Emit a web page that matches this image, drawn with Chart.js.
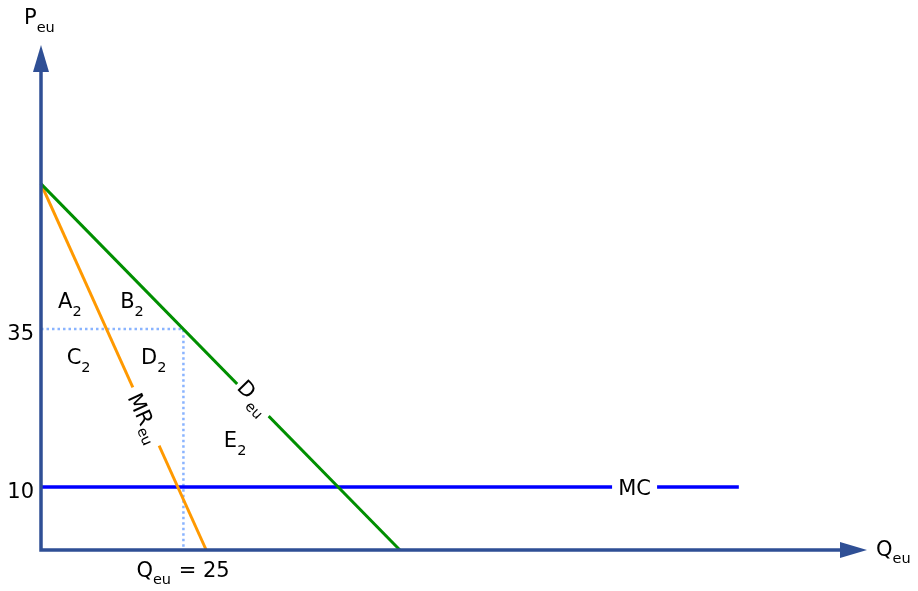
<!DOCTYPE html>
<html><head><meta charset="utf-8">
<script src="https://cdn.jsdelivr.net/npm/chart.js@4.4.1/dist/chart.umd.min.js"></script>
<style>html,body{margin:0;padding:0;background:#fff;}#wrap{width:918px;height:591px;}</style>
</head><body><div id="wrap"><canvas id="c" width="918" height="591"></canvas></div>
<script>
// ---- data ----
const demandQ = [0, 63];
const demandP = [58, 0];
const mrQ = [0, 29];
const mrP = [58, 0];
const mcQ = [0, 122.5];
const mcP = [10, 10];
const optQ = 25;
const optP = 35;
const priceTicks = [35, 10];
const priceTickLabels = ['35', '10'];
const regionNames = ['A', 'B', 'C', 'D', 'E'];
const regionSub = ['2', '2', '2', '2', '2'];
const regionQ = [3.0, 13.9, 4.5, 17.55, 32.1];
const regionP = [38.3, 38.3, 29.5, 29.5, 16.3];
const mcLabelQ = 104.2;
const demandLabelQ = 37.2;
const mrLabelQ = 18.43;
const qLabel = 'Q', qSub = 'eu', qValueText = ' = 25';

const FONT = '"DejaVu Sans", Verdana, sans-serif';
const AXIS = '#2f4f95';
const MAIN = 21, SUB = 14.5;

function toPts(xs, ys){ return xs.map((v,i)=>({x:v, y:ys[i]})); }

function font(sz){ return sz + 'px ' + FONT; }
function drawSub(ctx, main, sub, x, y, drop, align){
  ctx.textBaseline = 'alphabetic';
  ctx.font = font(MAIN);
  const w1 = ctx.measureText(main).width;
  ctx.font = font(SUB);
  const w2 = ctx.measureText(sub).width;
  let sx = x;
  if (align === 'center') sx = x - (w1 + w2)/2;
  ctx.textAlign = 'left';
  ctx.font = font(MAIN);
  ctx.fillText(main, sx, y);
  ctx.font = font(SUB);
  ctx.fillText(sub, sx + w1, y + drop);
  return sx + w1 + w2;
}

const overlay = {
  id: 'overlay',
  afterDatasetsDraw(chart){
    const ctx = chart.ctx;
    const xs = chart.scales.x, ys = chart.scales.y;
    const X = v => xs.getPixelForValue(v), Y = v => ys.getPixelForValue(v);
    const ca = chart.chartArea;
    ctx.save();
    // axes
    const ox = X(0), oy = Y(0);
    ctx.strokeStyle = AXIS; ctx.fillStyle = AXIS; ctx.lineWidth = 3.5;
    ctx.lineCap = 'butt';
    ctx.beginPath();
    ctx.moveTo(ox, oy + 1.75); ctx.lineTo(ox, ca.top + 26);
    ctx.moveTo(ox - 1.75, oy); ctx.lineTo(ca.right - 26, oy);
    ctx.stroke();
    ctx.beginPath();
    ctx.moveTo(ox, ca.top); ctx.lineTo(ox - 8, ca.top + 27); ctx.lineTo(ox + 8, ca.top + 27); ctx.closePath(); ctx.fill();
    ctx.beginPath();
    ctx.moveTo(ca.right, oy); ctx.lineTo(ca.right - 27, oy - 8); ctx.lineTo(ca.right - 27, oy + 8); ctx.closePath(); ctx.fill();

    ctx.fillStyle = '#000';
    // axis titles
    drawSub(ctx, 'P', 'eu', 24, 24, 8, 'left');
    drawSub(ctx, 'Q', 'eu', ca.right + 9, oy + 6, 7, 'left');
    // price ticks
    ctx.font = font(MAIN); ctx.textAlign = 'right'; ctx.textBaseline = 'alphabetic';
    priceTicks.forEach((v,i)=>{ ctx.fillText(priceTickLabels[i], ox - 7, Y(v) + 11); });
    // quantity label
    const end = drawSub(ctx, qLabel, qSub, X(optQ) - 47, oy + 27, 7, 'left');
    ctx.font = font(MAIN); ctx.textAlign = 'left';
    ctx.fillText(qValueText, end + 1, oy + 27);
    // region labels
    regionNames.forEach((n,i)=>{ drawSub(ctx, n, regionSub[i], X(regionQ[i]), Y(regionP[i]), 8, 'left'); });
    // MC label with gap
    const mcx = X(mcLabelQ), mcy = Y(mcP[0]);
    ctx.fillStyle = '#fff'; ctx.fillRect(mcx - 22.5, mcy - 4, 45, 8);
    ctx.fillStyle = '#000'; ctx.font = font(MAIN); ctx.textAlign = 'center';
    ctx.fillText('MC', mcx, mcy + 8);
    // rotated labels
    function rotLabel(q, lq, lp, main, sub, gap, mainAlong, mainBase, subAlong, subBase){
      const p = lp[0] * (1 - q / lq[1]);
      const cx = X(q), cy = Y(p);
      const ang = Math.atan2(Y(lp[1]) - Y(lp[0]), X(lq[1]) - X(lq[0]));
      ctx.save();
      ctx.translate(cx, cy); ctx.rotate(ang);
      ctx.fillStyle = '#fff'; ctx.fillRect(-gap/2, -4, gap, 8);
      ctx.fillStyle = '#000'; ctx.textAlign = 'center'; ctx.textBaseline = 'alphabetic';
      ctx.font = font(MAIN); ctx.fillText(main, mainAlong, mainBase);
      ctx.font = font(SUB); ctx.fillText(sub, subAlong, subBase);
      ctx.restore();
    }
    rotLabel(demandLabelQ, demandQ, demandP, 'D', 'eu', 45, -12, 4, 8, 11);
    rotLabel(mrLabelQ, mrQ, mrP, 'MR', 'eu', 64, -9, 9, 17.5, 14);
    ctx.restore();
  }
};

new Chart(document.getElementById('c'), {
  type: 'scatter',
  data: {
    datasets: [
      { data: toPts(demandQ, demandP), showLine: true, borderColor: '#008f00', borderWidth: 3, pointRadius: 0, clip: false },
      { data: toPts(mrQ, mrP), showLine: true, borderColor: '#ff9900', borderWidth: 3, pointRadius: 0, clip: false },
      { data: toPts(mcQ, mcP), showLine: true, borderColor: '#0000ff', borderWidth: 3.5, pointRadius: 0, clip: false },
      { data: [{x:0, y:optP}, {x:optQ, y:optP}, {x:optQ, y:0}], showLine: true, borderColor: '#8ab4ff', borderWidth: 2.5, borderDash: [2.5, 3], pointRadius: 0, clip: false }
    ]
  },
  options: {
    responsive: false,
    animation: false,
    devicePixelRatio: 1,
    events: [],
    layout: { padding: { left: 41, right: 51, top: 45, bottom: 41 } },
    plugins: { legend: { display: false }, tooltip: { enabled: false } },
    scales: {
      x: { type: 'linear', min: 0, max: 145, display: false },
      y: { type: 'linear', min: 0, max: 80, display: false }
    }
  },
  plugins: [overlay]
});
</script>
</body></html>
